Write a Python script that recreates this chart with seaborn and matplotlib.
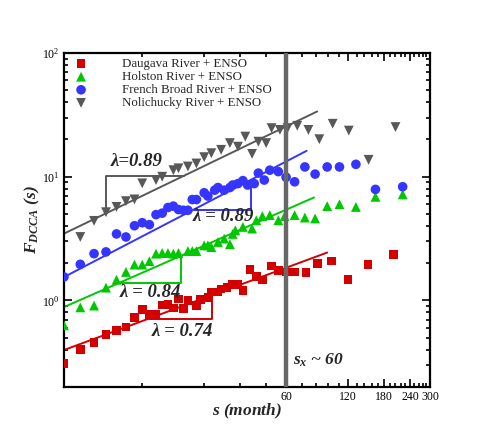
import numpy as np
import pandas as pd
import seaborn as sns
import matplotlib
matplotlib.use("Agg")
import matplotlib.pyplot as plt
from matplotlib.ticker import FixedLocator, FixedFormatter, LogLocator, LogFormatterSciNotation, NullFormatter

# ---- data ----
red_s = [5, 6, 7, 8, 9, 10, 11, 12, 13, 14, 15, 16, 17, 18, 19, 20, 22, 23, 25, 26,
         28, 29, 31, 33, 35, 37, 40, 43, 46, 51, 55, 60, 66, 75, 85, 100, 120, 150, 200]
red_F = [0.31, 0.40, 0.46, 0.53, 0.57, 0.61, 0.73, 0.85, 0.77, 0.77, 0.92, 0.93, 0.87, 1.03,
         0.86, 1.00, 0.91, 1.02, 1.06, 1.17, 1.17, 1.24, 1.28, 1.35, 1.34, 1.21, 1.78, 1.57,
         1.47, 1.90, 1.75, 1.70, 1.70, 1.68, 1.98, 2.08, 1.48, 1.96, 2.35]

green_s = [5, 6, 7, 8, 9, 10, 11, 12, 13, 14, 15, 16, 17, 18, 20, 21, 22, 24, 25, 26,
           28, 30, 32, 33, 34, 37, 41, 43, 46, 50, 55, 59, 66, 74, 83, 95, 109, 131, 163, 221]
green_F = [0.63, 0.88, 0.91, 1.27, 1.47, 1.70, 1.95, 1.95, 2.08, 2.39, 2.42, 2.42, 2.39, 2.42,
           2.51, 2.51, 2.51, 2.79, 2.79, 2.70, 2.97, 3.16, 2.85, 3.45, 3.69, 3.93, 3.81, 4.45,
           4.80, 4.90, 4.45, 4.80, 4.90, 4.68, 4.60, 5.79, 6.00, 5.70, 6.88, 7.20]

blue_s = [5, 6, 7, 8, 9, 10, 11, 12, 13, 14, 15, 16, 17, 18, 19, 20, 21, 22, 24, 25, 27,
          28, 30, 32, 33, 35, 37, 39, 42, 44, 47, 50, 55, 60, 66, 74, 83, 95, 109, 131, 163, 221]
blue_F = [1.55, 1.96, 2.39, 2.47, 3.45, 3.26, 4.02, 4.25, 4.10, 4.94, 5.08, 5.64, 5.79, 5.43,
          5.36, 5.36, 6.54, 6.54, 7.42, 6.98, 7.79, 8.18, 7.79, 8.18, 8.57, 8.80, 9.30, 8.57,
          8.80, 10.7, 9.40, 11.3, 11.0, 9.90, 9.10, 12.0, 10.5, 12.0, 12.0, 12.6, 7.90, 8.30]

gray_s = [6, 7, 8, 9, 10, 11, 12, 14, 15, 17, 18, 20, 22, 24, 26, 29, 32, 35, 38, 41, 44,
          48, 51, 56, 61, 68, 77, 87, 101, 121, 151, 204]
gray_F = [3.26, 4.40, 5.17, 5.71, 6.35, 6.56, 8.84, 9.40, 10.0, 11.3, 11.7, 12.1, 12.8, 14.4,
          15.5, 16.5, 18.7, 17.5, 21.1, 15.3, 19.2, 18.7, 24.7, 23.9, 24.7, 25.8, 23.9, 20.1,
          26.8, 23.6, 13.7, 25.2]

names = ["Daugava River + ENSO", "Holston River + ENSO",
         "French Broad River + ENSO", "Nolichucky River + ENSO"]
lambdas = ["0.74", "0.84", "0.89", "0.89"]

# fitted power-law lines (start / end)
fit_s0 = [5, 5, 5, 5]
fit_s1 = [95, 82, 75.5, 85]
fit_F0 = [0.398, 0.885, 1.546, 3.47]
fit_F1 = [2.44, 6.8, 16.2, 33.7]

# slope brackets: s range along each fit line
bracket_sa = [12.9, 9.25, 21.3, 8.0]
bracket_sb = [26.3, 18.6, 40.4, 19.1]

s_cross = 60

x_major = [60, 120, 180, 240, 300]
x_minor = [12, 24, 36, 48, 72, 84, 96, 108, 132, 144, 156, 168,
           192, 204, 216, 228, 252, 264, 276, 288]

colors = ["#d40000", "#00c800", "#3535ff", "#585858"]
markers = ["s", "^", "o", "v"]
sizes = [38, 50, 48, 50]

sns.set_style("ticks")
plt.rcParams["font.family"] = ["Liberation Serif", "DejaVu Serif"]
plt.rcParams["mathtext.fontset"] = "custom"
plt.rcParams["mathtext.rm"] = "Liberation Serif"
plt.rcParams["mathtext.it"] = "Liberation Serif:italic:bold"
plt.rcParams["mathtext.bf"] = "Liberation Serif:bold"

fig = plt.figure(figsize=(4.91, 4.36), dpi=100)
ax = fig.add_axes([0.1303, 0.1124, 0.7454, 0.7661])
ax.set_xscale("log")
ax.set_yscale("log")

series = [(red_s, red_F), (green_s, green_F), (blue_s, blue_F), (gray_s, gray_F)]
for i, (sv, fv) in enumerate(series):
    df = pd.DataFrame({"s": sv, "F": fv})
    sns.scatterplot(data=df, x="s", y="F", marker=markers[i], color=colors[i],
                    s=sizes[i], edgecolor="none", linewidth=0, label=names[i],
                    ax=ax, zorder=3)


def fit_value(i, s):
    # power law through the two end points of line i
    k = np.log(fit_F1[i] / fit_F0[i]) / np.log(fit_s1[i] / fit_s0[i])
    return fit_F0[i] * (s / fit_s0[i]) ** k


for i in range(4):
    ax.plot([fit_s0[i], fit_s1[i]], [fit_F0[i], fit_F1[i]], color=colors[i], lw=1.4, zorder=2)
    sa, sb = bracket_sa[i], bracket_sb[i]
    fa, fb = fit_value(i, sa), fit_value(i, sb)
    if i == 3:
        # gray bracket sits above the line
        ax.plot([sa, sa, sb], [fa, fb, fb], color=colors[i], lw=1.4, zorder=2)
    else:
        ax.plot([sa, sb, sb], [fa, fa, fb], color=colors[i], lw=1.4, zorder=2)

# lambda labels
lab_pos = [(13.4, 0.563), (9.35, 1.17), (21.0, 4.73), (8.4, 13.4)]
for i, (xp, yp) in enumerate(lab_pos):
    sep = "=" if i == 3 else " = "
    ax.text(xp, yp, "λ" + sep + lambdas[i], fontsize=13.5, fontweight="bold",
            fontstyle="italic", ha="left", va="center", zorder=5)

ax.axvline(s_cross, color="#686868", lw=3.2, zorder=4)
ax.text(64.5, 0.33, r"$s_x$" + " ~ 60", fontsize=12.5, fontweight="bold",
        fontstyle="italic", ha="left", va="center", zorder=5)

ax.set_xlim(5, 300)
ax.set_ylim(0.2, 100)

ax.xaxis.set_major_locator(FixedLocator(x_major))
ax.xaxis.set_major_formatter(FixedFormatter([str(v) for v in x_major]))
ax.xaxis.set_minor_locator(FixedLocator(x_minor))
ax.xaxis.set_minor_formatter(NullFormatter())
ax.yaxis.set_major_locator(LogLocator(base=10))
ax.yaxis.set_major_formatter(LogFormatterSciNotation())
ax.yaxis.set_minor_locator(LogLocator(base=10, subs=np.arange(2, 10)))
ax.yaxis.set_minor_formatter(NullFormatter())

ax.tick_params(which="both", direction="in", top=True, right=True, labelsize=8.5,
               width=1.2, colors="black")
ax.tick_params(which="major", length=6, pad=3)
ax.tick_params(which="minor", length=3)
for sp in ax.spines.values():
    sp.set_linewidth(1.6)
    sp.set_color("black")

ax.set_xlabel(r"$s$ (month)", fontsize=12.5, fontweight="bold", fontstyle="italic")
ax.set_ylabel(r"$F_{DCCA}$ (s)", fontsize=12.5, fontweight="bold", fontstyle="italic")
ax.xaxis.set_label_coords(0.5, -0.045)
ax.yaxis.set_label_coords(-0.06, 0.5)

leg = ax.legend(loc="upper left", bbox_to_anchor=(0.029, 0.985), frameon=False,
                fontsize=9.3, handlelength=1.0, handletextpad=2.7, labelspacing=0.08,
                borderpad=0, borderaxespad=0, scatterpoints=1)

fig.savefig("out.png", dpi=100)
